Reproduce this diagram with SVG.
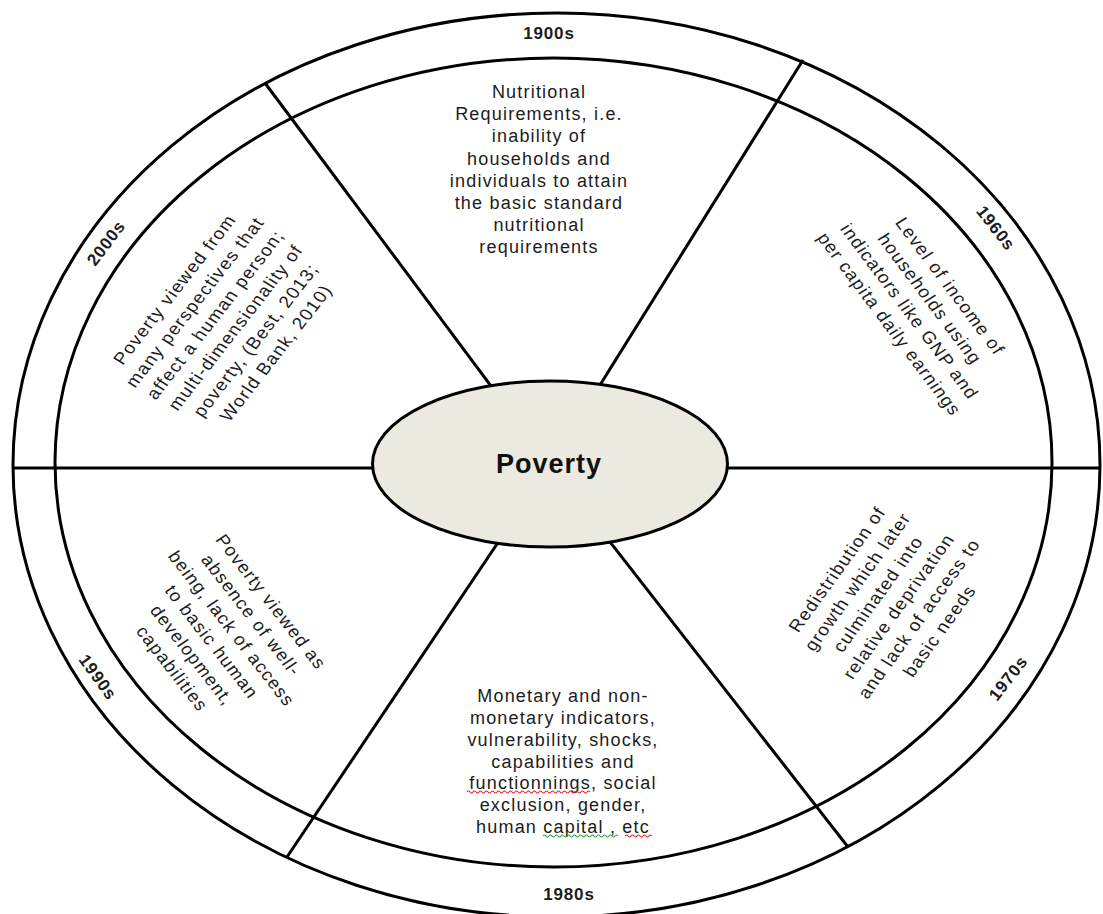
<svg xmlns="http://www.w3.org/2000/svg" width="1103" height="914" viewBox="0 0 1103 914">
<style>
.ln{fill:none;stroke:#000;stroke-width:3}
.t{font-family:"Liberation Sans",Arial,sans-serif;font-size:18px;fill:#1c1c1c;letter-spacing:1.2px;text-anchor:middle}
.lab{font-family:"Liberation Sans",Arial,sans-serif;font-size:17px;font-weight:bold;fill:#1c1c1c;letter-spacing:0.8px;text-anchor:middle}
.sq{fill:none;stroke-width:1.2}
</style>
<rect width="1103" height="914" fill="#fff"/>
<g id="ring">
<ellipse class="ln" cx="556.5" cy="465" rx="543.5" ry="452"/>
<ellipse class="ln" cx="553.5" cy="462.5" rx="498.5" ry="404.5"/>
</g>
<g id="connectors">
<line class="ln" x1="265" y1="83" x2="550" y2="465"/>
<line class="ln" x1="803" y1="60" x2="550" y2="465"/>
<line class="ln" x1="287" y1="857" x2="550" y2="465"/>
<line class="ln" x1="848" y1="847" x2="550" y2="465"/>
<line class="ln" x1="13" y1="468" x2="1100" y2="468"/>
</g>
<g id="center">
<ellipse cx="550" cy="464" rx="177.5" ry="83" fill="#ECEAE0" stroke="#000" stroke-width="3"/>
<text x="549" y="473" style="font-family:'Liberation Sans',Arial,sans-serif;font-size:27px;font-weight:bold;fill:#111;letter-spacing:1px;text-anchor:middle">Poverty</text>
</g>
<g id="seg-1900s">
<text class="lab" x="549" y="39">1900s</text>
<text class="t" x="539" y="98">Nutritional</text>
<text class="t" x="539" y="120">Requirements, i.e.</text>
<text class="t" x="539" y="142">inability of</text>
<text class="t" x="539" y="164.5">households and</text>
<text class="t" x="539" y="187">individuals to attain</text>
<text class="t" x="539" y="209">the basic standard</text>
<text class="t" x="539" y="231">nutritional</text>
<text class="t" x="539" y="253">requirements</text>
</g>
<g id="seg-1960s">
<text class="lab" transform="translate(996,228) rotate(52)" x="0" y="6">1960s</text>
<g transform="translate(920,305) rotate(53) skewX(-5)">
<text class="t" x="0" y="-29.2">Level of income of</text>
<text class="t" x="0" y="-5.4">households using</text>
<text class="t" x="0" y="18.4">indicators like GNP and</text>
<text class="t" x="0" y="42.2">per capita daily earnings</text>
</g>
</g>
<g id="seg-1970s">
<text class="lab" transform="translate(1008,678) rotate(-52)" x="0" y="6">1970s</text>
<g transform="translate(888,600) rotate(-54) skewX(5)">
<text class="t" x="0" y="-53">Redistribution of</text>
<text class="t" x="0" y="-29.2">growth which later</text>
<text class="t" x="0" y="-5.4">culminated into</text>
<text class="t" x="0" y="18.4">relative deprivation</text>
<text class="t" x="0" y="42.2">and lack of access to</text>
<text class="t" x="0" y="66">basic needs</text>
</g>
</g>
<g id="seg-1980s">
<text class="lab" x="569" y="900">1980s</text>
<text class="t" x="563" y="702">Monetary and non-</text>
<text class="t" x="563" y="724">monetary indicators,</text>
<text class="t" x="563" y="746">vulnerability, shocks,</text>
<text class="t" x="563" y="767.5">capabilities and</text>
<text class="t" x="563" y="789">functionnings, social</text>
<text class="t" x="563" y="811">exclusion, gender,</text>
<text class="t" x="563" y="833">human capital , etc</text>
<path class="sq" stroke="#e03030" d="M467,792 q1.5,-2 3,0 t3,0 t3,0 t3,0 t3,0 t3,0 t3,0 t3,0 t3,0 t3,0 t3,0 t3,0 t3,0 t3,0 t3,0 t3,0 t3,0 t3,0 t3,0 t3,0 t3,0 t3,0 t3,0 t3,0 t3,0 t3,0 t3,0 t3,0 t3,0 t3,0 t3,0 t3,0 t3,0 t3,0 t3,0 t3,0 t3,0 t3,0 t3,0 t3,0 t3,0"/>
<path class="sq" stroke="#3aa040" d="M543,836 q1.5,-2 3,0 t3,0 t3,0 t3,0 t3,0 t3,0 t3,0 t3,0 t3,0 t3,0 t3,0 t3,0 t3,0 t3,0 t3,0 t3,0 t3,0 t3,0 t3,0 t3,0 t3,0 t3,0 t3,0 t3,0 t3,0"/>
<path class="sq" stroke="#e03030" d="M625,836 q1.5,-2 3,0 t3,0 t3,0 t3,0 t3,0 t3,0 t3,0 t3,0 t3,0"/>
</g>
<g id="seg-1990s">
<text class="lab" transform="translate(98,677) rotate(54)" x="0" y="6">1990s</text>
<g transform="translate(222,635) rotate(52) skewX(-4)">
<text class="t" x="0" y="-53">Poverty viewed as</text>
<text class="t" x="0" y="-29.2">absence of well-</text>
<text class="t" x="0" y="-5.4">being, lack of access</text>
<text class="t" x="0" y="18.4">to basic human</text>
<text class="t" x="0" y="42.2">development,</text>
<text class="t" x="0" y="66">capabilities</text>
</g>
</g>
<g id="seg-2000s">
<text class="lab" transform="translate(106,243) rotate(-53)" x="0" y="6">2000s</text>
<g transform="translate(225,321) rotate(-52) skewX(6)">
<text class="t" x="0" y="-53">Poverty viewed from</text>
<text class="t" x="0" y="-29.2">many perspectives that</text>
<text class="t" x="0" y="-5.4">affect a human person;</text>
<text class="t" x="0" y="18.4">multi-dimensionality of</text>
<text class="t" x="0" y="42.2">poverty, (Best, 2013;</text>
<text class="t" x="0" y="66">World Bank, 2010)</text>
</g>
</g>
</svg>
